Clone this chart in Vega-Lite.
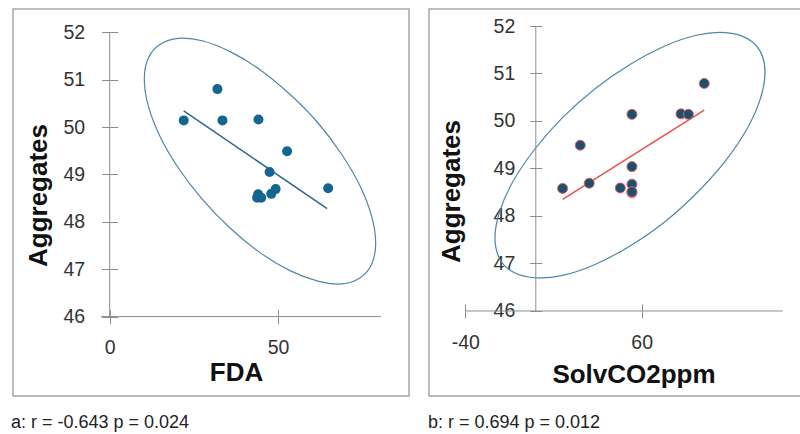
{
  "$schema": "https://vega.github.io/schema/vega-lite/v6.json",
  "padding": {"left": 10, "top": 8, "right": 0, "bottom": 0},
  "background": "white",
  "spacing": 17,
  "config": {
    "view": {"stroke": "#a6a6a6", "strokeWidth": 1.5},
    "axis": {"grid": false, "domain": false, "tickColor": "#8c8c8c", "tickWidth": 1, "labelFont": "Liberation Sans", "labelFontSize": 19.5, "labelColor": "#333333", "titleFont": "Liberation Sans", "titleFontSize": 26, "titleFontWeight": "bold", "titleColor": "#111111"},
    "title": {"font": "Liberation Sans", "fontSize": 18, "fontWeight": "normal", "color": "#222222", "orient": "bottom", "anchor": "start", "offset": 18}
  },
  "datasets": {
    "a_pts": [
      {"FDA": 22.0, "Aggregates": 50.14}, {"FDA": 32.0, "Aggregates": 50.80}, {"FDA": 33.5, "Aggregates": 50.14},
      {"FDA": 44.2, "Aggregates": 50.16}, {"FDA": 52.7, "Aggregates": 49.49}, {"FDA": 47.5, "Aggregates": 49.05},
      {"FDA": 49.3, "Aggregates": 48.69}, {"FDA": 48.0, "Aggregates": 48.59}, {"FDA": 44.1, "Aggregates": 48.58},
      {"FDA": 43.8, "Aggregates": 48.51}, {"FDA": 45.0, "Aggregates": 48.51}, {"FDA": 64.9, "Aggregates": 48.71}
    ],
    "a_fit": [{"FDA": 22.0, "Aggregates": 50.34}, {"FDA": 64.6, "Aggregates": 48.28}],
    "a_axes": [{"x": -2.6, "x2": 80.6, "y": 46, "y2": 46}, {"x": 0, "x2": 0, "y": 46, "y2": 52}],
    "a_ell": [
      {"i": 0, "x": 79.02, "y": 47.55}, {"i": 1, "x": 77.85, "y": 47.11}, {"i": 2, "x": 74.42, "y": 46.82},
      {"i": 3, "x": 68.95, "y": 46.69}, {"i": 4, "x": 61.84, "y": 46.75}, {"i": 5, "x": 53.55, "y": 46.97},
      {"i": 6, "x": 44.65, "y": 47.35}, {"i": 7, "x": 35.75, "y": 47.87}, {"i": 8, "x": 27.47, "y": 48.48},
      {"i": 9, "x": 20.35, "y": 49.14}, {"i": 10, "x": 14.88, "y": 49.81}, {"i": 11, "x": 11.45, "y": 50.45},
      {"i": 12, "x": 10.28, "y": 51.01}, {"i": 13, "x": 11.45, "y": 51.45}, {"i": 14, "x": 14.88, "y": 51.74},
      {"i": 15, "x": 20.35, "y": 51.87}, {"i": 16, "x": 27.47, "y": 51.82}, {"i": 17, "x": 35.75, "y": 51.59},
      {"i": 18, "x": 44.65, "y": 51.21}, {"i": 19, "x": 53.55, "y": 50.69}, {"i": 20, "x": 61.84, "y": 50.09},
      {"i": 21, "x": 68.95, "y": 49.42}, {"i": 22, "x": 74.42, "y": 48.75}, {"i": 23, "x": 77.85, "y": 48.11}
    ],
    "b_pts": [
      {"SolvCO2ppm": 15.2, "Aggregates": 48.58}, {"SolvCO2ppm": 25.2, "Aggregates": 49.49}, {"SolvCO2ppm": 30.3, "Aggregates": 48.69},
      {"SolvCO2ppm": 47.9, "Aggregates": 48.59}, {"SolvCO2ppm": 54.5, "Aggregates": 50.14}, {"SolvCO2ppm": 54.5, "Aggregates": 49.04},
      {"SolvCO2ppm": 54.5, "Aggregates": 48.67}, {"SolvCO2ppm": 54.5, "Aggregates": 48.49}, {"SolvCO2ppm": 54.5, "Aggregates": 48.51},
      {"SolvCO2ppm": 82.3, "Aggregates": 50.15}, {"SolvCO2ppm": 86.5, "Aggregates": 50.14}, {"SolvCO2ppm": 95.5, "Aggregates": 50.79}
    ],
    "b_fit": [{"SolvCO2ppm": 15.2, "Aggregates": 48.35}, {"SolvCO2ppm": 95.5, "Aggregates": 50.23}],
    "b_axes": [{"x": -40, "x2": 140, "y": 46, "y2": 46}, {"x": 0, "x2": 0, "y": 46, "y2": 52}],
    "b_ell": [
      {"i": 0, "x": 129.93, "y": 51.02}, {"i": 1, "x": 127.32, "y": 50.47}, {"i": 2, "x": 119.68, "y": 49.83},
      {"i": 3, "x": 107.51, "y": 49.16}, {"i": 4, "x": 91.67, "y": 48.50}, {"i": 5, "x": 73.21, "y": 47.88},
      {"i": 6, "x": 53.4, "y": 47.37}, {"i": 7, "x": 33.59, "y": 46.98}, {"i": 8, "x": 15.13, "y": 46.75},
      {"i": 9, "x": -0.71, "y": 46.70}, {"i": 10, "x": -12.88, "y": 46.82}, {"i": 11, "x": -20.52, "y": 47.10},
      {"i": 12, "x": -23.13, "y": 47.54}, {"i": 13, "x": -20.52, "y": 48.09}, {"i": 14, "x": -12.88, "y": 48.73},
      {"i": 15, "x": -0.71, "y": 49.40}, {"i": 16, "x": 15.13, "y": 50.07}, {"i": 17, "x": 33.59, "y": 50.68},
      {"i": 18, "x": 53.4, "y": 51.19}, {"i": 19, "x": 73.21, "y": 51.58}, {"i": 20, "x": 91.67, "y": 51.81},
      {"i": 21, "x": 107.51, "y": 51.86}, {"i": 22, "x": 119.68, "y": 51.74}, {"i": 23, "x": 127.32, "y": 51.46}
    ]
  },
  "hconcat": [
    {
      "width": 396,
      "height": 387,
      "title": {"text": "a: r = -0.643 p = 0.024", "dx": -2},
      "resolve": {"scale": {"x": "independent", "y": "independent"}},
      "layer": [
        {
          "data": {"name": "a_ell"},
          "mark": {"type": "line", "interpolate": "cardinal-closed", "stroke": "#4f86a6", "strokeWidth": 1.2, "clip": false},
          "encoding": {
            "x": {"field": "x", "type": "quantitative", "scale": {"domain": [-28.73, 88.92], "nice": false, "zero": false},
                  "axis": {"orient": "bottom", "offset": -79.4, "values": [0, 50], "tickSize": -7, "labels": false, "title": null}},
            "y": {"field": "y", "type": "quantitative", "scale": {"domain": [44.325, 52.49], "nice": false, "zero": false},
                  "axis": {"orient": "left", "offset": -96.7, "values": [46, 47, 48, 49, 50, 51, 52], "tickSize": -8, "labels": false, "title": null}},
            "order": {"field": "i", "type": "quantitative"}
          }
        },
        {
          "layer": [
            {
              "data": {"name": "a_axes"},
              "mark": {"type": "rule", "color": "#8c8c8c", "strokeWidth": 1},
              "encoding": {
                "x": {"field": "x", "type": "quantitative", "scale": {"domain": [-28.73, 88.92], "nice": false, "zero": false}},
                "x2": {"field": "x2"},
                "y": {"field": "y", "type": "quantitative", "scale": {"domain": [44.325, 52.49], "nice": false, "zero": false}},
                "y2": {"field": "y2"}
              }
            },
            {
              "data": {"name": "a_fit"},
              "mark": {"type": "line", "stroke": "#2d6b89", "strokeWidth": 1.5},
              "encoding": {
                "x": {"field": "FDA", "type": "quantitative"},
                "y": {"field": "Aggregates", "type": "quantitative"}
              }
            },
            {
              "data": {"name": "a_pts"},
              "mark": {"type": "circle", "size": 100, "color": "#12668f", "opacity": 1},
              "encoding": {
                "x": {"field": "FDA", "type": "quantitative",
                      "axis": {"orient": "bottom", "offset": -79.4, "values": [0, 50], "tickSize": 7, "labelPadding": 15, "title": "FDA", "titleX": 223, "titleY": 64, "titleBaseline": "alphabetic"}},
                "y": {"field": "Aggregates", "type": "quantitative",
                      "axis": {"orient": "left", "offset": -96.7, "values": [46, 47, 48, 49, 50, 51, 52], "tickSize": 8, "labelPadding": 17, "title": "Aggregates", "titleX": -63.4, "titleY": 186, "titleBaseline": "alphabetic"}}
              }
            }
          ]
        }
      ]
    },
    {
      "width": 377,
      "height": 387,
      "title": {"text": "b: r = 0.694 p = 0.012", "dx": -1},
      "resolve": {"scale": {"x": "independent", "y": "independent"}},
      "layer": [
        {
          "data": {"name": "b_ell"},
          "mark": {"type": "line", "interpolate": "cardinal-closed", "stroke": "#4f86a6", "strokeWidth": 1.2, "clip": false},
          "encoding": {
            "x": {"field": "x", "type": "quantitative", "scale": {"domain": [-60.54, 153.17], "nice": false, "zero": false},
                  "axis": {"orient": "bottom", "offset": -85, "values": [-40, 60], "tickSize": -7, "labels": false, "title": null}},
            "y": {"field": "y", "type": "quantitative", "scale": {"domain": [44.21, 52.358], "nice": false, "zero": false},
                  "axis": {"orient": "left", "offset": -106.8, "values": [46, 47, 48, 49, 50, 51, 52], "tickSize": -6, "labels": false, "title": null}},
            "order": {"field": "i", "type": "quantitative"}
          }
        },
        {
          "layer": [
            {
              "data": {"name": "b_axes"},
              "mark": {"type": "rule", "color": "#8c8c8c", "strokeWidth": 1},
              "encoding": {
                "x": {"field": "x", "type": "quantitative", "scale": {"domain": [-60.54, 153.17], "nice": false, "zero": false}},
                "x2": {"field": "x2"},
                "y": {"field": "y", "type": "quantitative", "scale": {"domain": [44.21, 52.358], "nice": false, "zero": false}},
                "y2": {"field": "y2"}
              }
            },
            {
              "data": {"name": "b_fit"},
              "mark": {"type": "line", "stroke": "#e8504a", "strokeWidth": 1.5},
              "encoding": {
                "x": {"field": "SolvCO2ppm", "type": "quantitative"},
                "y": {"field": "Aggregates", "type": "quantitative"}
              }
            },
            {
              "data": {"name": "b_pts"},
              "mark": {"type": "circle", "size": 100, "fill": "#1d4f6e", "stroke": "#e06060", "strokeWidth": 1, "opacity": 1},
              "encoding": {
                "x": {"field": "SolvCO2ppm", "type": "quantitative",
                      "axis": {"orient": "bottom", "offset": -85, "values": [-40, 60], "tickSize": 7, "labelPadding": 15, "labelExpr": "datum.value", "title": "SolvCO2ppm", "titleX": 204.5, "titleY": 71.7, "titleBaseline": "alphabetic"}},
                "y": {"field": "Aggregates", "type": "quantitative",
                      "axis": {"orient": "left", "offset": -106.8, "values": [46, 47, 48, 49, 50, 51, 52], "tickSize": 6, "labelPadding": 15, "title": "Aggregates", "titleX": -76.5, "titleY": 182, "titleBaseline": "alphabetic"}}
              }
            }
          ]
        }
      ]
    }
  ]
}
